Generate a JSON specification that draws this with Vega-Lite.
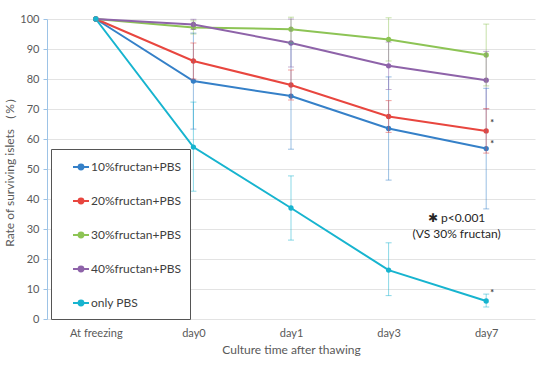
{
  "$schema": "https://vega.github.io/schema/vega-lite/v6.json",
  "width": 488,
  "height": 300,
  "autosize": {"type": "none"},
  "padding": {"left": 47, "top": 19, "right": 15, "bottom": 50},
  "background": "white",
  "config": {
    "font": "Lato",
    "view": {"stroke": null},
    "axis": {"labelColor": "#595959", "titleColor": "#595959", "labelFontSize": 11, "titleFontSize": 12, "titleFontWeight": "normal"}
  },
  "datasets": {
    "s": [
      {"g": "10%fructan+PBS", "t": "At freezing", "v": 100, "lo": null, "hi": null},
      {"g": "10%fructan+PBS", "t": "day0", "v": 79.3, "lo": 63.3, "hi": 95.3},
      {"g": "10%fructan+PBS", "t": "day1", "v": 74.3, "lo": 56.6, "hi": 92},
      {"g": "10%fructan+PBS", "t": "day3", "v": 63.5, "lo": 46.3, "hi": 80.7},
      {"g": "10%fructan+PBS", "t": "day7", "v": 56.8, "lo": 36.7, "hi": 76.9},
      {"g": "20%fructan+PBS", "t": "At freezing", "v": 100, "lo": null, "hi": null},
      {"g": "20%fructan+PBS", "t": "day0", "v": 86, "lo": 80, "hi": 92},
      {"g": "20%fructan+PBS", "t": "day1", "v": 78, "lo": 73, "hi": 83},
      {"g": "20%fructan+PBS", "t": "day3", "v": 67.5, "lo": 62.2, "hi": 72.8},
      {"g": "20%fructan+PBS", "t": "day7", "v": 62.7, "lo": 55.3, "hi": 70.1},
      {"g": "30%fructan+PBS", "t": "At freezing", "v": 100, "lo": null, "hi": null},
      {"g": "30%fructan+PBS", "t": "day0", "v": 97.2, "lo": 95, "hi": 99.4},
      {"g": "30%fructan+PBS", "t": "day1", "v": 96.6, "lo": 92, "hi": 100.6},
      {"g": "30%fructan+PBS", "t": "day3", "v": 93.2, "lo": 86, "hi": 100.4},
      {"g": "30%fructan+PBS", "t": "day7", "v": 88, "lo": 77.7, "hi": 98.3},
      {"g": "40%fructan+PBS", "t": "At freezing", "v": 100, "lo": null, "hi": null},
      {"g": "40%fructan+PBS", "t": "day0", "v": 98.2, "lo": 96.5, "hi": 99.9},
      {"g": "40%fructan+PBS", "t": "day1", "v": 92, "lo": 84, "hi": 100},
      {"g": "40%fructan+PBS", "t": "day3", "v": 84.4, "lo": 76.5, "hi": 92.3},
      {"g": "40%fructan+PBS", "t": "day7", "v": 79.6, "lo": 70, "hi": 89.2},
      {"g": "only PBS", "t": "At freezing", "v": 100, "lo": null, "hi": null},
      {"g": "only PBS", "t": "day0", "v": 57.3, "lo": 42.6, "hi": 72.3},
      {"g": "only PBS", "t": "day1", "v": 37, "lo": 26.3, "hi": 47.7},
      {"g": "only PBS", "t": "day3", "v": 16.3, "lo": 7.8, "hi": 25.4},
      {"g": "only PBS", "t": "day7", "v": 6, "lo": 4, "hi": 8.3}
    ],
    "stars": [
      {"t": "day7", "v": 65.5},
      {"t": "day7", "v": 58.3},
      {"t": "day7", "v": 8.6}
    ],
    "note": [
      {"t": "day3", "v": 33.7, "label": "✱ p<0.001"},
      {"t": "day3", "v": 28.3, "label": "(VS 30% fructan)"}
    ]
  },
  "encoding": {
    "x": {
      "field": "t", "type": "ordinal",
      "sort": ["At freezing", "day0", "day1", "day3", "day7"],
      "scale": {"type": "point", "padding": 0.5},
      "axis": {"title": "Culture time after thawing", "labelAngle": 0, "domain": false, "ticks": false, "labelPadding": 8, "titlePadding": 6}
    },
    "y": {
      "field": "v", "type": "quantitative",
      "scale": {"domain": [0, 100], "nice": false, "zero": true},
      "axis": {"title": "Rate of surviving islets （%）", "values": [0,10,20,30,40,50,60,70,80,90,100], "gridColor": "#e3e3e3", "domainColor": "#9dc3e6", "tickColor": "#9dc3e6", "tickSize": 4, "labelPadding": 4, "titlePadding": 3}
    }
  },
  "layer": [
    {
      "data": {"name": "s"},
      "mark": {"type": "line", "strokeWidth": 2, "point": {"filled": true, "size": 28}},
      "encoding": {
        "color": {
          "field": "g", "type": "nominal",
          "scale": {"domain": ["10%fructan+PBS", "20%fructan+PBS", "30%fructan+PBS", "40%fructan+PBS", "only PBS"], "range": ["#3580c8", "#e8463f", "#8dc455", "#8e63a9", "#17b4cf"]},
          "legend": {
            "title": null, "orient": "none", "legendX": 4, "legendY": 130,
            "strokeColor": "#555555", "fillColor": "white", "padding": 9,
            "symbolType": "M -1 0 L -0.3 0 M 0.3 0 L 1 0 M -0.3 0 A 0.3 0.3 0 1 0 0.3 0 A 0.3 0.3 0 1 0 -0.3 0 Z",
            "symbolSize": 256, "symbolStrokeWidth": 2, "symbolOffset": 12,
            "labelFontSize": 12, "labelColor": "#404040", "labelOffset": 1, "rowPadding": 18,
            "labelFont": "Lato"
          }
        }
      }
    },
    {
      "data": {"name": "s"},
      "mark": {"type": "rule", "strokeWidth": 1, "opacity": 0.5},
      "encoding": {
        "y": {"field": "lo", "type": "quantitative"},
        "y2": {"field": "hi"},
        "color": {"field": "g", "type": "nominal"}
      }
    },
    {
      "data": {"name": "s"},
      "mark": {"type": "tick", "orient": "horizontal", "size": 6, "thickness": 1, "opacity": 0.5},
      "encoding": {
        "y": {"field": "lo", "type": "quantitative"},
        "color": {"field": "g", "type": "nominal"}
      }
    },
    {
      "data": {"name": "s"},
      "mark": {"type": "tick", "orient": "horizontal", "size": 6, "thickness": 1, "opacity": 0.5},
      "encoding": {
        "y": {"field": "hi", "type": "quantitative"},
        "color": {"field": "g", "type": "nominal"}
      }
    },
    {
      "data": {"name": "stars"},
      "mark": {"type": "text", "text": "*", "fontSize": 9, "dx": 6, "color": "#404040", "fontWeight": "bold"}
    },
    {
      "data": {"name": "note"},
      "mark": {"type": "text", "dx": 68, "fontSize": 12, "color": "#262626", "font": "Lato"},
      "encoding": {"text": {"field": "label"}}
    }
  ]
}
